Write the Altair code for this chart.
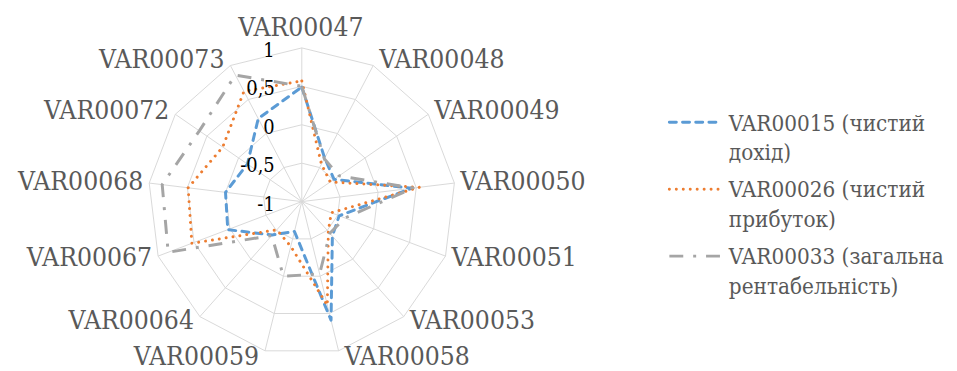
import altair as alt
import pandas as pd

# ---------------- data ----------------
axes = ["VAR00047", "VAR00048", "VAR00049", "VAR00050", "VAR00051", "VAR00053",
        "VAR00058", "VAR00059", "VAR00064", "VAR00067", "VAR00068", "VAR00072", "VAR00073"]
net_income = [0.49, -0.36, -0.49, 0.44, -0.48, -0.40, 0.59, -0.60, -0.42, 0.03, 0.00, -0.14, 0.22]
net_profit = [0.57, -0.45, -0.55, 0.54, -0.59, -0.48, 0.39, -0.40, -0.51, 0.53, 0.49, 0.25, 0.62]
total_return = [0.50, -0.37, -0.41, 0.46, -0.40, -0.45, -0.03, 0.00, -0.41, 0.86, 0.83, 0.62, 0.86]
series_names = ["VAR00015 (чистий дохід)", "VAR00026 (чистий прибуток)",
                "VAR00033 (загальна рентабельність)"]
series_values = [net_income, net_profit, total_return]
tick_values = [-1, -0.5, 0, 0.5, 1]
tick_labels = ["-1", "-0,5", "0", "0,5", "1"]

# ---------------- styling / layout ----------------
colors = ["#5B9BD5", "#ED7D31", "#A5A5A5"]
line_styles = [
    dict(strokeDash=[7, 6.3], strokeCap="round", strokeWidth=3),
    dict(strokeDash=[0.01, 7], strokeCap="round", strokeWidth=3),
    dict(strokeDash=[14, 10, 3, 10], strokeCap="butt", strokeWidth=3),
]
FONT = "DejaVu Serif Condensed"
VMIN, VMAX = tick_values[0], tick_values[-1]
N = len(axes)
R_PX = 155.0            # pixel radius of the outer ring
W, H = 949, 363
CX, CY = 296.3, 193.7   # centre of the radar inside the plot area (px)
U = 1.0 / R_PX          # one pixel in data units

xs = alt.Scale(domain=[-CX / R_PX, (W - CX) / R_PX], nice=False, zero=False)
ys = alt.Scale(domain=[-(H - CY) / R_PX, CY / R_PX], nice=False, zero=False)


def X(f):
    return alt.X(f, type="quantitative", scale=xs, axis=None)


def Y(f):
    return alt.Y(f, type="quantitative", scale=ys, axis=None)


theta_expr = f"2 * PI * datum.k / {N}"
radius_expr = f"(datum.value - ({VMIN})) / ({VMAX} - ({VMIN}))"

# ---------------- tables ----------------
series_rows = []
for name, vals in zip(series_names, series_values):
    for k in range(N + 1):
        series_rows.append({"series": name, "k": k, "value": vals[k % N]})
series_df = pd.DataFrame(series_rows)

ring_rows = []
for lv in tick_values[1:]:
    for k in range(N + 1):
        ring_rows.append({"level": lv, "k": k, "value": lv})
ring_df = pd.DataFrame(ring_rows)

axes_df = pd.DataFrame({"k": list(range(N)), "name": axes})
ticks_df = pd.DataFrame({"value": tick_values, "label": tick_labels})
legend_df = pd.DataFrame({
    "i": list(range(len(series_names))),
    "text": [n.rsplit(" ", 1)[0] + "\n" + n.rsplit(" ", 1)[1] for n in series_names],
})

layers = []

# grid rings
layers.append(
    alt.Chart(ring_df)
    .transform_calculate(theta=theta_expr, r=radius_expr)
    .transform_calculate(x="datum.r * sin(datum.theta)", y="datum.r * cos(datum.theta)")
    .mark_line(color="#D9D9D9", strokeWidth=1)
    .encode(x=X("x"), y=Y("y"), detail="level:N", order="k:Q")
)
# spokes
layers.append(
    alt.Chart(axes_df)
    .transform_calculate(theta=theta_expr)
    .transform_calculate(x0="0", y0="0", x1="sin(datum.theta)", y1="cos(datum.theta)")
    .mark_rule(color="#D9D9D9", strokeWidth=1)
    .encode(x=X("x0"), y=Y("y0"), x2="x1:Q", y2="y1:Q")
)
# series
for name, col, st in zip(series_names, colors, line_styles):
    layers.append(
        alt.Chart(series_df)
        .transform_filter(alt.datum.series == name)
        .transform_calculate(theta=theta_expr, r=radius_expr)
        .transform_calculate(x="datum.r * sin(datum.theta)", y="datum.r * cos(datum.theta)")
        .mark_line(color=col, strokeJoin="round", **st)
        .encode(x=X("x"), y=Y("y"), order="k:Q")
    )
# radial tick labels
layers.append(
    alt.Chart(ticks_df)
    .transform_calculate(r=radius_expr, tx=str(-27.3 * U))
    .mark_text(align="right", baseline="middle", dy=3, font=FONT, fontSize=20, color="#000000")
    .encode(x=X("tx"), y=Y("r"), text="label:N")
)
# category labels
lab_base = (
    alt.Chart(axes_df)
    .transform_calculate(theta=theta_expr)
    .transform_calculate(s="sin(datum.theta)", c="cos(datum.theta)")
)
for cond, al, bl, xe, ye in [
    ("datum.s > 0.1", "left", "middle", f"datum.s + {6 * U}", f"datum.c * (1 + {6 * U})"),
    ("datum.s < -0.1", "right", "middle", f"datum.s - {6 * U}", f"datum.c * (1 + {6 * U})"),
    ("abs(datum.s) <= 0.1", "center", "alphabetic", f"datum.s - {1 * U}", f"datum.c + {12.5 * U}"),
]:
    layers.append(
        lab_base.transform_filter(cond)
        .transform_calculate(lx=xe, ly=ye)
        .mark_text(align=al, baseline=bl, font=FONT, fontSize=26.5, color="#595959")
        .encode(x=X("lx"), y=Y("ly"), text="name:N")
    )
# legend
LX0, LX1, LTX = (675 - 304.3) * U, (728 - 304.3) * U, (735 - 304.3) * U
LSY, LTY, LSTEP = (201.7 - 121.7) * U, (201.7 - 130) * U, 67.5 * U
legend_base = alt.Chart(legend_df).transform_calculate(
    x0=str(LX0), x1=str(LX1), tx=str(LTX),
    sy=f"{LSY} - datum.i * {LSTEP}", ty=f"{LTY} - datum.i * {LSTEP}",
)
for idx, (col, st) in enumerate(zip(colors, line_styles)):
    layers.append(
        legend_base.transform_filter(alt.datum.i == idx)
        .mark_rule(color=col, **st)
        .encode(x=X("x0"), x2="x1:Q", y=Y("sy"))
    )
layers.append(
    legend_base.mark_text(align="left", baseline="alphabetic", lineBreak="\n", lineHeight=30,
                          font=FONT, fontSize=22.5, color="#595959")
    .encode(x=X("tx"), y=Y("ty"), text="text:N")
)

chart = (
    alt.layer(*layers)
    .properties(width=W, height=H, autosize=alt.AutoSizeParams(type="none"), padding=0)
    .configure_view(strokeWidth=0)
)
chart.save("out.html", embed_options={"renderer": "svg", "actions": False})
